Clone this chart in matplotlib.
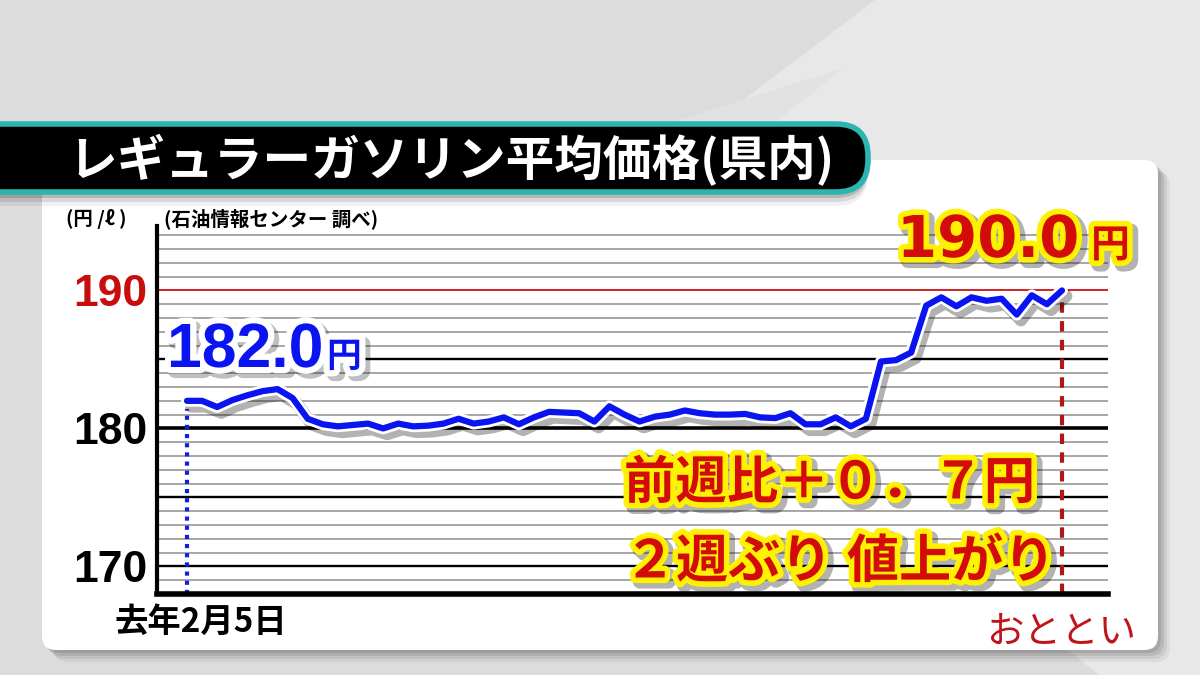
import matplotlib
matplotlib.use('Agg')
import matplotlib.pyplot as plt
import matplotlib.patheffects as pe
from matplotlib.patches import FancyBboxPatch, Polygon, Rectangle
import numpy as np

plt.rcParams['font.family'] = ['Noto Sans CJK JP', 'DejaVu Sans']

# weekly average price of regular gasoline (yen / litre)
prices = [182.0, 182.0, 181.55, 182.05, 182.4, 182.7, 182.85, 182.2, 180.7, 180.3,
          180.15, 180.25, 180.35, 180.0, 180.35, 180.15, 180.2, 180.35, 180.7, 180.35,
          180.5, 180.8, 180.3, 180.8, 181.2, 181.15, 181.1, 180.5, 181.6, 181.0,
          180.5, 180.85, 181.0, 181.3, 181.1, 181.0, 181.0, 181.05, 180.8, 180.75,
          181.1, 180.3, 180.3, 180.8, 180.15, 180.7, 184.85, 184.95, 185.5, 188.9,
          189.5, 188.85, 189.5, 189.25, 189.4, 188.25, 189.65, 189.0, 190.0]
ytick_vals = [170, 180, 190]
ytick_labels = ['170', '180', '190']
title = 'レギュラーガソリン平均価格(県内)'
unit_label = '(円 /ℓ )'
source_label = '(石油情報センター 調べ)'
start_label = '去年2月5日'
end_label = 'おととい'
first_value = '182.0'
last_value = '190.0'
note_line1 = '前週比＋０．７円'
note_line2 = ['２週ぶり', '値上がり']

W, H = 1200, 675
fig = plt.figure(figsize=(12, 6.75), dpi=100)

# background layer in pixel coordinates
bg = fig.add_axes([0, 0, 1, 1], zorder=0)
bg.set_xlim(0, W)
bg.set_ylim(H, 0)
bg.axis('off')
bg.add_patch(Rectangle((0, 0), W, H, color='#dcdcdc'))
bg.add_patch(Polygon([(876, 0), (W, 0), (W, H), (1100, H), (560, 240)], color='#e8e8e8'))
bg.add_patch(Polygon([(840, 70), (770, 125), (666, 125)], color='#e2e2e2'))

# panel shadow + white panel
for d, a in [(12, 0.05), (9, 0.07), (6, 0.09), (3, 0.1)]:
    bg.add_patch(FancyBboxPatch((42 + d, 160 + d), 1116, 490,
                                boxstyle='round,pad=0,rounding_size=14',
                                fc='black', ec='none', alpha=a))
bg.add_patch(FancyBboxPatch((42, 160), 1116, 490, boxstyle='round,pad=0,rounding_size=14',
                            fc='white', ec='none'))

# title bar
for d, a in [(12, 0.06), (8, 0.1), (4, 0.15)]:
    bg.add_patch(FancyBboxPatch((-40, 124 + d), 908, 70, boxstyle='round,pad=0,rounding_size=32',
                                fc='black', ec='none', alpha=a))
bg.add_patch(FancyBboxPatch((-40, 124), 908, 68, boxstyle='round,pad=0,rounding_size=32',
                            fc='black', ec='#2ab5ae', lw=4))
bg.text(68, 160, title, color='white', fontsize=35, fontweight='bold', va='center', ha='left')

# chart
ax = fig.add_axes([157 / W, 1 - 594 / H, (1108 - 157) / W, (594 - 226) / H], zorder=1)
ax.set_facecolor('none')
x = np.arange(len(prices))
ppw = 875 / (len(prices) - 1)
ax.set_xlim(-30 / ppw, x[-1] + 46 / ppw)
ax.set_ylim(168, 194.67)

for v in range(169, 195):
    if v == 190:
        ax.axhline(v, color='#d01010', lw=1.3, zorder=1)
    elif v == 180:
        ax.axhline(v, color='black', lw=2.6, zorder=1)
    elif v % 5 == 0:
        ax.axhline(v, color='black', lw=1.7, zorder=1)
    else:
        ax.axhline(v, color='#8e8e8e', lw=1.1, zorder=1)

for s in ['top', 'right']:
    ax.spines[s].set_visible(False)
ax.spines['left'].set_linewidth(3)
ax.spines['bottom'].set_linewidth(4)

ax.plot([x[0], x[0]], [168, prices[0] - 0.6], color='#1020e0', lw=3, ls=(0, (1, 1.2)), zorder=2)
ax.plot([x[-1], x[-1]], [168, prices[-1]], color='#b01818', lw=3, ls=(0, (2.5, 2)), zorder=2)

ax.plot(x, prices, color='#0a14f0', lw=4.5, zorder=5, solid_capstyle='round',
        path_effects=[pe.SimpleLineShadow(offset=(3, -4), shadow_color='black', alpha=0.3, linewidth=9),
                      pe.Stroke(linewidth=8.5, foreground='white'), pe.Normal()])

ax.set_xticks([])
ax.set_yticks(ytick_vals)
ax.set_yticklabels(ytick_labels, fontsize=32, fontweight='bold', family=['Liberation Sans', 'DejaVu Sans'])
ax.tick_params(axis='y', length=0, pad=7)
ax.get_yticklabels()[2].set_color('#c80d0d')

# annotation layer
top = fig.add_axes([0, 0, 1, 1], zorder=3)
top.set_xlim(0, W)
top.set_ylim(H, 0)
top.axis('off')

top.text(66, 219, unit_label, fontsize=14, fontweight='bold', va='center')
top.text(164, 219, source_label, fontsize=14, fontweight='bold', va='center',
         bbox=dict(fc='white', ec='none', pad=1))

white_fx = [pe.Stroke(offset=(3, -3), linewidth=10, foreground='black', alpha=0.25),
            pe.Stroke(linewidth=9, foreground='white'), pe.Normal()]
yellow_fx = [pe.Stroke(offset=(3, -3), linewidth=10, foreground='black', alpha=0.3),
             pe.Stroke(linewidth=8, foreground='#fff200'), pe.Normal()]

top.text(167, 367, first_value, color='#0a14f0', fontsize=45, fontweight='bold',
         family=['Liberation Sans', 'DejaVu Sans'], va='baseline', path_effects=white_fx)
top.text(327, 367, '円', color='#0a14f0', fontsize=25, fontweight='bold', va='baseline',
         path_effects=white_fx)

top.text(897, 257, last_value, color='#d40b0b', fontsize=41.5, fontweight='bold',
         family=['DejaVu Sans'], va='baseline', path_effects=yellow_fx)
top.text(1091, 257, '円', color='#d40b0b', fontsize=28, fontweight='bold', va='baseline',
         path_effects=yellow_fx)

top.text(624, 483, note_line1, color='#d40b0b', fontsize=37, fontweight='bold', va='center',
         path_effects=yellow_fx)
top.text(624, 562, note_line2[0], color='#d40b0b', fontsize=37.5, fontweight='bold', va='center',
         path_effects=yellow_fx)
top.text(847, 562, note_line2[1], color='#d40b0b', fontsize=37.5, fontweight='bold', va='center',
         path_effects=yellow_fx)

top.text(114, 622, start_label, fontsize=24, fontweight='bold', va='center')
top.text(1136, 632, end_label, fontsize=27, color='#c0141b', va='center', ha='right')

fig.savefig('out.png', dpi=100)
